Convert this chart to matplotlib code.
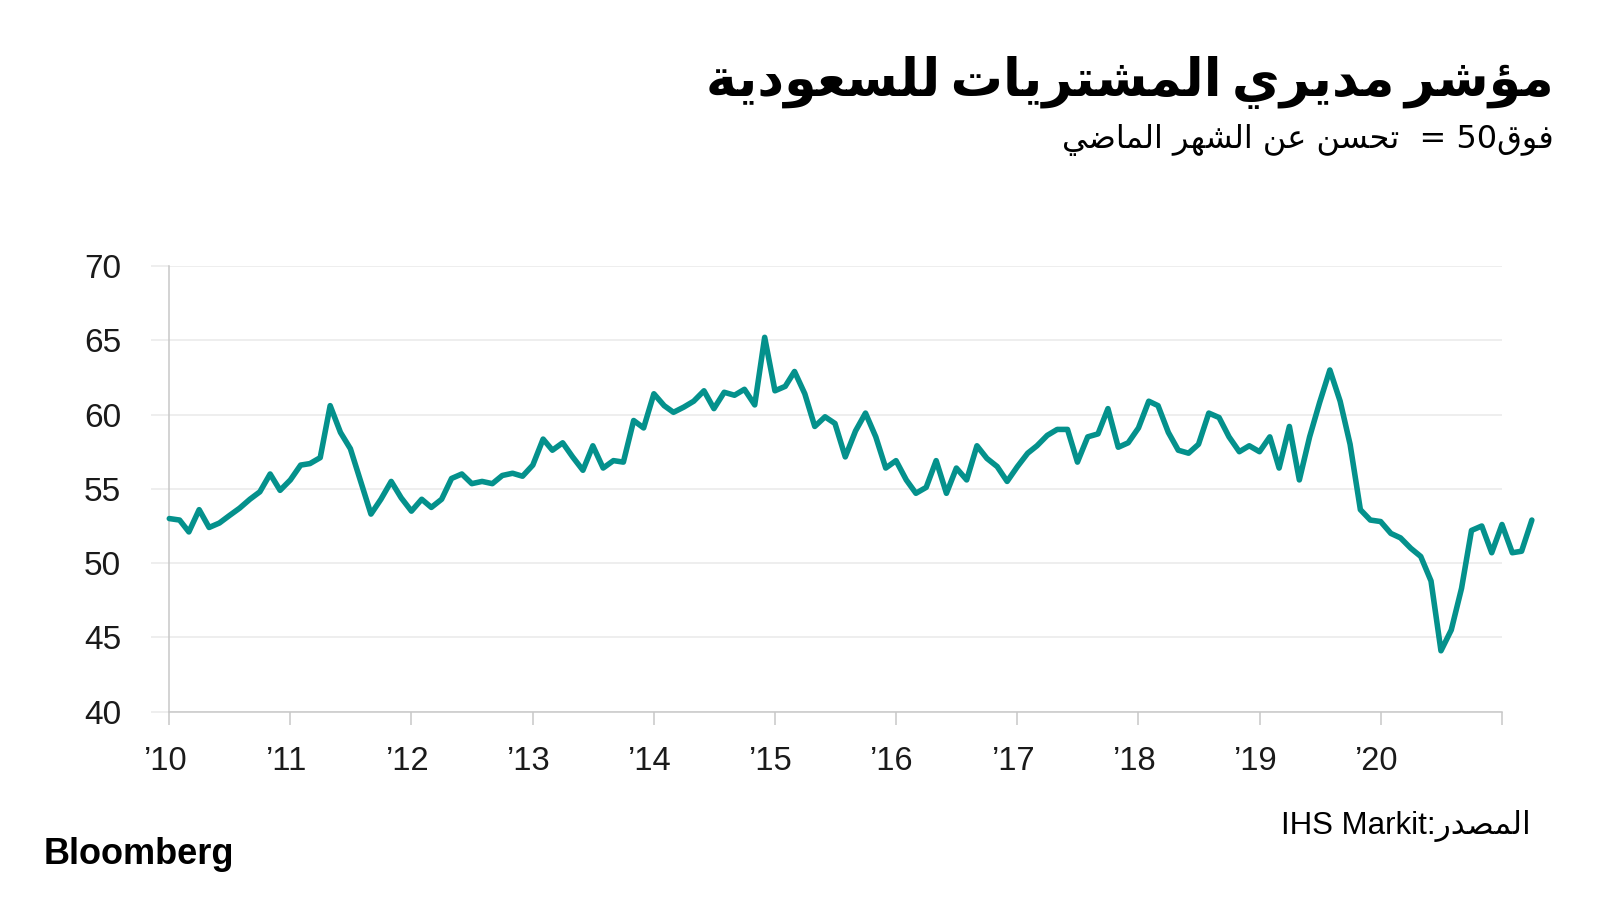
import datetime as dt

import matplotlib
matplotlib.use("Agg")
import matplotlib.pyplot as plt
import matplotlib.transforms as mtransforms
import pandas as pd

# Saudi Arabia PMI, monthly Jan 2010 .. Apr 2021
pmi = [
    53.0, 52.9, 52.1, 53.6, 52.4, 52.7, 53.2, 53.7, 54.3, 54.8, 56.0, 54.9,   # 2010
    55.6, 56.6, 56.7, 57.1, 60.6, 58.8, 57.7, 55.5, 53.3, 54.3, 55.5, 54.4,   # 2011
    53.5, 54.3, 53.75, 54.3, 55.7, 56.0, 55.35, 55.5, 55.35, 55.9, 56.05, 55.85,  # 2012
    56.6, 58.35, 57.6, 58.1, 57.15, 56.25, 57.9, 56.4, 56.9, 56.8, 59.6, 59.1,   # 2013
    61.4, 60.6, 60.15, 60.5, 60.9, 61.6, 60.4, 61.5, 61.3, 61.7, 60.65, 65.2,   # 2014
    61.6, 61.9, 62.9, 61.4, 59.2, 59.85, 59.4, 57.15, 58.9, 60.1, 58.5, 56.4,   # 2015
    56.9, 55.6, 54.7, 55.1, 56.9, 54.7, 56.4, 55.6, 57.9, 57.05, 56.5, 55.5,   # 2016
    56.5, 57.4, 57.9, 58.6, 59.0, 59.0, 56.8, 58.5, 58.7, 60.4, 57.8, 58.1,   # 2017
    59.1, 60.9, 60.6, 58.8, 57.6, 57.4, 58.0, 60.1, 59.8, 58.5, 57.5, 57.9,   # 2018
    57.5, 58.5, 56.4, 59.2, 55.6, 58.5, 60.8, 63.0, 60.9, 58.0, 53.6, 52.9,   # 2019
    52.8, 52.0, 51.7, 51.0, 50.45, 48.8, 44.1, 45.5, 48.3, 52.2, 52.5, 50.7,  # 2020
    52.6, 50.7, 50.8, 52.9,                                                     # 2021
]
months = pd.date_range("2010-01-01", periods=len(pmi), freq="MS")

tick_years = list(range(2010, 2022))
year_labels = ["’10", "’11", "’12", "’13", "’14", "’15", "’16", "’17", "’18", "’19", "’20", ""]
y_ticks = [40, 45, 50, 55, 60, 65, 70]

title_words = ["مؤشر", "مديري", "المشتريات", "للسعودية"]
subtitle_left = ["تحسن", "عن", "الشهر", "الماضي"]
source_word = "المصدر"
source_name = "IHS Markit"

TEAL = "#04918c"
GRID = "#e9e9e9"
AXIS = "#c8c8c8"

# DejaVu has the Arabic presentation forms, but matplotlib does no joining or bidi,
# so pick each letter's contextual form by hand (isolated, final, initial, medial)
FORMS = {
    "ا": "\uFE8D\uFE8E", "ؤ": "\uFE85\uFE86", "ة": "\uFE93\uFE94",
    "د": "\uFEA9\uFEAA", "ر": "\uFEAD\uFEAE", "و": "\uFEED\uFEEE",
    "ت": "\uFE95\uFE96\uFE97\uFE98", "ح": "\uFEA1\uFEA2\uFEA3\uFEA4",
    "س": "\uFEB1\uFEB2\uFEB3\uFEB4", "ش": "\uFEB5\uFEB6\uFEB7\uFEB8",
    "ص": "\uFEB9\uFEBA\uFEBB\uFEBC", "ض": "\uFEBD\uFEBE\uFEBF\uFEC0",
    "ع": "\uFEC9\uFECA\uFECB\uFECC", "ف": "\uFED1\uFED2\uFED3\uFED4",
    "ق": "\uFED5\uFED6\uFED7\uFED8", "ل": "\uFEDD\uFEDE\uFEDF\uFEE0",
    "م": "\uFEE1\uFEE2\uFEE3\uFEE4", "ن": "\uFEE5\uFEE6\uFEE7\uFEE8",
    "ه": "\uFEE9\uFEEA\uFEEB\uFEEC", "ي": "\uFEF1\uFEF2\uFEF3\uFEF4",
}


def shape(word):
    if word[0] not in FORMS:
        return word
    out = []
    for i, ch in enumerate(word):
        f = FORMS[ch]
        joins_prev = i > 0 and len(FORMS[word[i - 1]]) == 4
        joins_next = i < len(word) - 1 and len(f) == 4
        if joins_prev and joins_next:
            out.append(f[3])
        elif joins_prev:
            out.append(f[1])
        elif joins_next:
            out.append(f[2])
        else:
            out.append(f[0])
    return "".join(reversed(out))


def rtl_line(words, sep=" "):
    # words are given in reading order; draw them right to left
    return sep.join(shape(w) for w in reversed(words))


fig = plt.figure(figsize=(16, 9), dpi=100)
fig.patch.set_facecolor("white")

# axes box in pixels: left 169, right 1502, top 266, bottom 712
ax = fig.add_axes([169.3 / 1600, 1 - 711.7 / 900, (1502 - 169.3) / 1600, (711.7 - 266) / 900])

ax.plot(months, pmi, color=TEAL, lw=4.0, solid_joinstyle="round",
        solid_capstyle="round", clip_on=False, zorder=3)

ax.set_ylim(40, 70)
ax.set_yticks(y_ticks)
ax.set_xlim(dt.date(2010, 1, 1), dt.date(2021, 1, 1))
ax.set_xticks([dt.date(y, 1, 1) for y in tick_years])
ax.set_xticklabels(year_labels)

ax.yaxis.grid(True, color=GRID, lw=1.1, zorder=0)
for side in ["top", "right"]:
    ax.spines[side].set_visible(False)
ax.spines["left"].set_color(AXIS)
ax.spines["bottom"].set_color(AXIS)
ax.spines["left"].set_linewidth(1.1)
ax.spines["bottom"].set_linewidth(1.1)

ax.tick_params(axis="y", length=12.7, width=1.1, color=GRID, pad=22,
               labelsize=24, labelcolor="#1a1a1a")
ax.tick_params(axis="x", length=9.6, width=1.1, color=AXIS, pad=15,
               labelsize=23.5, labelcolor="#1a1a1a")
for lab in ax.get_yticklabels() + ax.get_xticklabels():
    lab.set_family("Liberation Sans")
shift = mtransforms.ScaledTranslation(-4 / 100, 0, fig.dpi_scale_trans)
for lab in ax.get_xticklabels():
    lab.set_transform(lab.get_transform() + shift)

# title and subtitle, right aligned
fig.text(1554 / 1600, 1 - 96 / 900, rtl_line(title_words, "\u2009"), ha="right", va="baseline",
         fontsize=37.5, fontweight="bold", family="DejaVu Sans", color="black")
subtitle = rtl_line(subtitle_left) + "  " + "= " + "50" + shape("فوق")
fig.text(1554 / 1600, 1 - 148 / 900, subtitle, ha="right", va="baseline",
         fontsize=23, family="DejaVu Sans", color="black")

# source line and logo
fig.text(1531 / 1600, 1 - 834 / 900, source_name + ":" + shape(source_word),
         ha="right", va="baseline", fontsize=22.5,
         family=["Liberation Sans", "DejaVu Sans"], color="black")
fig.text(44 / 1600, 1 - 864 / 900, "Bloomberg", ha="left", va="baseline",
         fontsize=26, fontweight="bold", family="Liberation Sans", color="black")

fig.savefig("out.png", dpi=100, facecolor="white")
